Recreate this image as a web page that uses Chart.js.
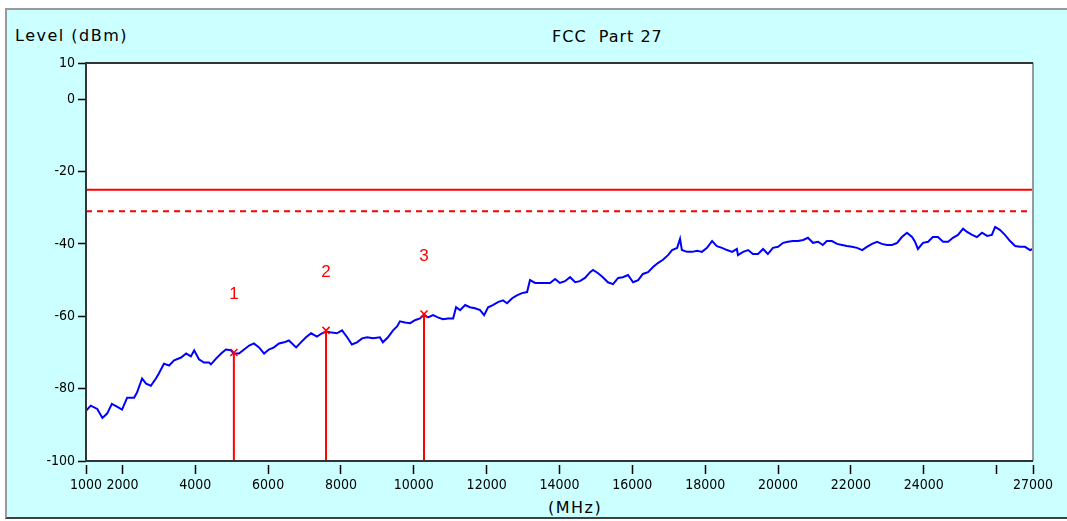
<!DOCTYPE html>
<html>
<head>
<meta charset="utf-8">
<title>FCC Part 27</title>
<script src="https://cdn.jsdelivr.net/npm/chart.js@4.4.1/dist/chart.umd.min.js"></script>
<style>
  body { margin: 0; background: #ffffff; overflow: hidden; }
  #panel {
    position: absolute; left: 5px; top: 8px; width: 1070px; height: 511px;
    box-sizing: border-box; background: #ccffff;
    border-left: 2px solid #9a9a9a; border-top: 2px solid #9a9a9a;
    border-bottom: 2px solid #404040;
  }
  .lbl {
    position: absolute; font-family: "DejaVu Sans", sans-serif; font-size: 16px;
    color: #000; white-space: pre; line-height: 18px;
  }
  #grafica { position: absolute; left: 0; top: 0; }
</style>
</head>
<body>
<div id="panel"></div>
<div class="lbl" style="left:15px; top:27px; letter-spacing:1.5px;">Level (dBm)</div>
<div class="lbl" style="left:552px; top:28px; letter-spacing:1px;">FCC  Part 27</div>
<div class="lbl" style="left:548px; top:499px; letter-spacing:1.5px;">(MHz)</div>
<canvas id="grafica" width="1067" height="521"></canvas>
<script>
// trace (MHz, dBm)
const frecuencias = [
  1000, 1130, 1310, 1450, 1580, 1710, 1850, 1990, 2130, 2320, 2400, 2540, 2650, 2780, 2920, 3000,
  3140, 3280, 3420, 3610, 3750, 3880, 3970, 4100, 4240, 4380, 4430, 4570, 4710, 4840, 4980, 5060,
  5200, 5340, 5480, 5610, 5750, 5890, 6020, 6160, 6300, 6440, 6570, 6770, 6900, 7040, 7180, 7340,
  7480, 7590, 7700, 7890, 8030, 8170, 8300, 8440, 8580, 8720, 8880, 9070, 9150, 9290, 9430, 9540,
  9620, 9760, 9900, 10030, 10170, 10280, 10390, 10530, 10660, 10800, 10940, 11080, 11160, 11270,
  11410, 11540, 11680, 11820, 11930, 12040, 12170, 12310, 12450, 12560, 12700, 12830, 12970, 13110,
  13190, 13330, 13460, 13600, 13740, 13880, 14010, 14150, 14290, 14430, 14560, 14700, 14840, 14920,
  15060, 15190, 15330, 15470, 15610, 15740, 15880, 16020, 16160, 16290, 16430, 16570, 16700, 16840,
  16980, 17090, 17230, 17310, 17360, 17500, 17640, 17780, 17910, 18050, 18190, 18320, 18460, 18600,
  18740, 18870, 18900, 19040, 19180, 19310, 19450, 19590, 19720, 19860, 20000, 20140, 20270, 20410,
  20550, 20690, 20820, 20960, 21100, 21230, 21340, 21480, 21620, 21760, 21890, 22030, 22170, 22310,
  22440, 22580, 22720, 22850, 22990, 23130, 23270, 23400, 23540, 23680, 23760, 23840, 23980, 24120,
  24250, 24390, 24530, 24670, 24800, 24940, 25080, 25190, 25330, 25460, 25600, 25740, 25870, 25960,
  26090, 26230, 26370, 26510, 26640, 26780, 26920, 27000
];
const niveles = [
  -86.1, -84.7, -85.6, -88.1, -86.9, -84.2, -85.0, -85.8, -82.5, -82.5, -81.1, -77.2, -78.6, -79.2, -77.2, -75.8,
  -73.1, -73.6, -72.2, -71.4, -70.3, -71.1, -69.4, -71.9, -72.8, -72.8, -73.3, -71.7, -70.3, -69.2, -69.4, -70.3,
  -70.3, -69.2, -68.1, -67.5, -68.6, -70.3, -69.2, -68.6, -67.5, -67.2, -66.7, -68.6, -67.2, -65.8, -64.7, -65.6,
  -64.7, -64.2, -64.4, -64.7, -63.9, -65.8, -67.8, -67.2, -66.1, -65.8, -66.1, -65.8, -67.2, -65.8, -63.9, -62.8,
  -61.4, -61.7, -61.9, -61.1, -60.6, -59.6, -60.3, -59.7, -60.3, -60.8, -60.6, -60.6, -57.5, -58.3,
  -56.9, -57.5, -57.8, -58.3, -59.7, -57.5, -56.9, -56.1, -55.6, -56.4, -55.0, -54.2, -53.6, -53.3,
  -50.0, -50.8, -50.8, -50.8, -50.8, -49.7, -50.8, -50.3, -49.2, -50.6, -50.3, -49.4, -47.8, -47.2,
  -48.1, -49.2, -50.6, -51.1, -49.4, -49.2, -48.6, -50.6, -50.0, -48.3, -47.8, -46.4, -45.3, -44.4,
  -43.1, -41.7, -41.1, -38.6, -41.7, -42.2, -42.2, -41.9, -42.2, -41.1, -39.2, -40.6, -41.1, -41.7,
  -42.2, -41.4, -43.1, -42.2, -41.7, -42.8, -42.8, -41.4, -42.8, -41.1, -40.8, -39.7, -39.4, -39.2,
  -39.2, -38.9, -38.3, -39.7, -39.4, -40.3, -39.2, -39.2, -40.0, -40.3, -40.6, -40.8, -41.1, -41.7,
  -40.8, -40.0, -39.4, -40.0, -40.3, -40.3, -39.7, -38.1, -36.9, -38.1, -39.4, -41.4, -39.7, -39.4,
  -38.1, -38.1, -39.4, -39.4, -38.3, -37.5, -35.8, -36.7, -37.5, -38.1, -36.9, -37.8, -37.5, -35.3,
  -36.1, -37.5, -39.2, -40.6, -40.8, -40.8, -41.7, -41.4
];

// markers
const marcadores = ["1", "2", "3"];
const marcadorFrec = [5060, 7590, 10280];
const marcadorNivel = [-70.0, -63.9, -59.4];

// limit lines
const limite = -25;
const limiteMargen = -31;

const ticksX = [1000, 2000, 4000, 6000, 8000, 10000, 12000, 14000, 16000, 18000, 20000, 22000, 24000, 26000, 27000];
const ticksXSinTexto = [26000];
const ticksY = [10, 0, -20, -40, -60, -80, -100];

const rojo = "#ff0000";
const fuenteTicks = { family: "'Liberation Sans Narrow', 'DejaVu Sans Condensed', sans-serif", size: 14 };

// frame round the plot + marker numbers
const marcoYEtiquetas = {
    id: "marcoYEtiquetas",
    afterDatasetsDraw(chart) {
        const ctx = chart.ctx;
        const a = chart.chartArea;
        const x = chart.scales.x, y = chart.scales.y;
        ctx.save();
        ctx.fillStyle = rojo;
        ctx.font = "17px 'Liberation Sans', sans-serif";
        ctx.textAlign = "center";
        ctx.textBaseline = "middle";
        marcadores.forEach((m, i) => {
            ctx.fillText(m, x.getPixelForValue(marcadorFrec[i]), y.getPixelForValue(marcadorNivel[i]) - 58);
        });
        ctx.lineWidth = 2;
        ctx.strokeStyle = "#9a9a9a";
        ctx.beginPath();
        ctx.moveTo(a.right, a.top);
        ctx.lineTo(a.right, a.bottom);
        ctx.stroke();
        ctx.strokeStyle = "#333333";
        ctx.beginPath();
        ctx.moveTo(a.right, a.top);
        ctx.lineTo(a.left, a.top);
        ctx.lineTo(a.left, a.bottom);
        ctx.lineTo(a.right, a.bottom);
        ctx.stroke();
        ctx.restore();
    },
    beforeDraw(chart) {
        const a = chart.chartArea;
        chart.ctx.save();
        chart.ctx.fillStyle = "#ffffff";
        chart.ctx.fillRect(a.left, a.top, a.right - a.left, a.bottom - a.top);
        chart.ctx.restore();
    }
};

const datasets = [{
    label: "trace",
    data: frecuencias.map((f, i) => ({ x: f, y: niveles[i] })),
    borderColor: "#0000ff",
    borderWidth: 2,
    pointRadius: 0,
    tension: 0,
    order: 3
}, {
    label: "limit",
    data: [{ x: 1000, y: limite }, { x: 27000, y: limite }],
    borderColor: rojo,
    borderWidth: 2,
    pointRadius: 0,
    order: 2
}, {
    label: "margin",
    data: [{ x: 1000, y: limiteMargen }, { x: 27000, y: limiteMargen }],
    borderColor: rojo,
    borderWidth: 2,
    borderDash: [6, 5],
    pointRadius: 0,
    order: 2
}];

marcadores.forEach((m, i) => {
    datasets.push({
        label: "marker " + m,
        data: [{ x: marcadorFrec[i], y: -100 }, { x: marcadorFrec[i], y: marcadorNivel[i] }],
        borderColor: rojo,
        borderWidth: 2,
        pointRadius: [0, 5],
        pointStyle: "crossRot",
        pointBorderColor: rojo,
        pointBorderWidth: 1.5,
        order: 1
    });
});

new Chart(document.getElementById("grafica").getContext("2d"), {
    type: "line",
    data: { datasets: datasets },
    plugins: [marcoYEtiquetas],
    options: {
        responsive: false,
        animation: false,
        layout: { padding: { left: 0, right: 34, top: 63, bottom: 0 } },
        plugins: {
            legend: { display: false },
            tooltip: { enabled: false }
        },
        scales: {
            x: {
                type: "linear",
                min: 1000,
                max: 27000,
                afterBuildTicks: s => { s.ticks = ticksX.map(v => ({ value: v })); },
                afterFit: s => { s.height = 60; },
                border: { display: false },
                grid: {
                    drawOnChartArea: false,
                    drawTicks: true,
                    tickLength: 13,
                    tickColor: "#000000",
                    tickWidth: 1.5,
                    tickBorderDash: [0, 4, 9, 100]
                },
                ticks: {
                    color: "#000000",
                    font: fuenteTicks,
                    padding: 3,
                    maxRotation: 0,
                    autoSkip: false,
                    callback: v => ticksXSinTexto.includes(v) ? "" : String(v)
                }
            },
            y: {
                type: "linear",
                min: -100,
                max: 10,
                afterBuildTicks: s => { s.ticks = ticksY.map(v => ({ value: v })); },
                afterFit: s => { s.width = 86; },
                border: { display: false },
                grid: {
                    drawOnChartArea: false,
                    drawTicks: true,
                    tickLength: 8,
                    tickColor: "#000000",
                    tickWidth: 1.5
                },
                ticks: {
                    color: "#000000",
                    font: fuenteTicks,
                    padding: 3,
                    autoSkip: false,
                    callback: v => String(v)
                }
            }
        }
    }
});
</script>
</body>
</html>
